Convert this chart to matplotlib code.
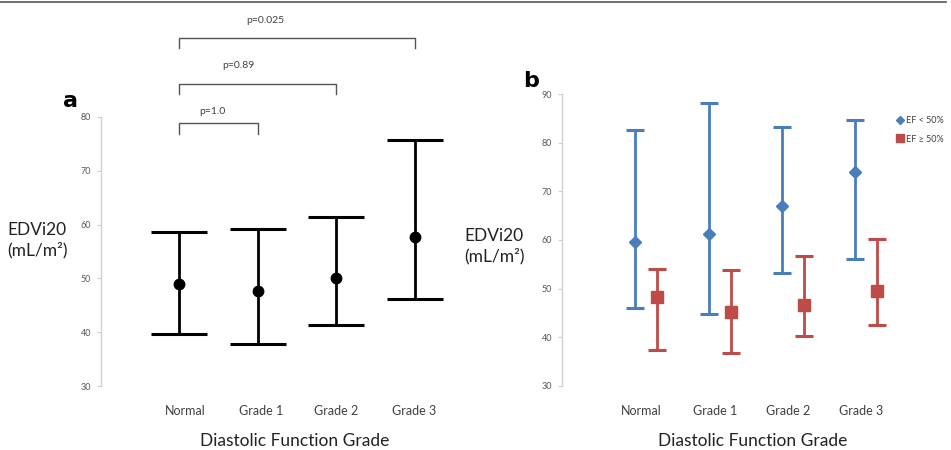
import numpy as np
import matplotlib
matplotlib.use('Agg')
import matplotlib.pyplot as plt
from matplotlib.lines import Line2D

plt.rcParams['font.family'] = ['Lato', 'DejaVu Sans']

# ---------------- data ----------------
grades = ['Normal', 'Grade 1', 'Grade 2', 'Grade 3']

# panel a: all patients
a_mean = [49.0, 47.7, 50.0, 57.7]
a_upper = [58.7, 59.1, 61.5, 75.7]
a_lower = [39.7, 37.9, 41.3, 46.1]

# panel b: split by ejection fraction
b_lo_mean = [59.6, 61.2, 67.0, 74.1]
b_lo_upper = [82.7, 88.3, 83.2, 84.8]
b_lo_lower = [46.0, 44.8, 53.1, 56.1]

b_hi_mean = [48.2, 45.1, 46.6, 49.4]
b_hi_upper = [54.1, 53.9, 56.7, 60.1]
b_hi_lower = [37.3, 36.7, 40.2, 42.5]

# significance brackets (from, to, p-label)
brackets = [(0, 1, 'p=1.0'), (0, 2, 'p=0.89'), (0, 3, 'p=0.025')]

blue = '#4a7ebb'
red = '#be4b48'
axis_grey = '#d0d0d0'
tick_grey = '#595959'
text_grey = '#404040'

fig = plt.figure(figsize=(9.51, 4.5), dpi=100)

# thin frame line at the top of the image
fig.add_artist(Line2D([0, 0.995], [0.996, 0.996], transform=fig.transFigure,
                      color='#555555', lw=1.2))


def style_axis(ax, yticks):
    for s in ['top', 'right', 'bottom']:
        ax.spines[s].set_visible(False)
    ax.spines['left'].set_color(axis_grey)
    ax.spines['left'].set_linewidth(1.0)
    ax.set_yticks(yticks)
    ax.set_yticklabels([str(t) for t in yticks], fontsize=6.5, color=tick_grey)
    ax.tick_params(axis='y', direction='out', length=3, color=axis_grey, pad=4)
    ax.tick_params(axis='x', length=0, pad=14)


###########################################################
# a) all patients
###########################################################
ax = fig.add_axes([0.1062, 0.1422, 0.4122, 0.5978])
x = np.arange(1, 5)
m = np.array(a_mean)
yerr = [m - np.array(a_lower), np.array(a_upper) - m]
ax.errorbar(x, m, yerr=yerr, fmt='o', color='black', ms=7.5, elinewidth=2.0,
            capsize=20, capthick=2.2)
ax.set_xlim(0, 5)
ax.set_ylim(30, 80)
style_axis(ax, [30, 40, 50, 60, 70, 80])
ax.set_xticks(x + [0.08, 0.04, 0, 0])
ax.set_xticklabels(grades, fontsize=9, color=text_grey)

# brackets drawn in data coordinates, above the axes
br_y = [78.8, 86.1, 94.7]
br_drop = 1.9
txt_y = [81.0, 89.6, 98.0]
txt_x = [1.42, 1.75, 2.09]
for (i0, i1, lab), yb, yt, xt in zip(brackets, br_y, txt_y, txt_x):
    ax.plot([x[i0], x[i0], x[i1], x[i1]], [yb - br_drop, yb, yb, yb - br_drop],
            color='#555555', lw=1.0, clip_on=False)
    ax.text(xt, yt, lab, fontsize=7.5, color=text_grey, ha='center', va='center',
            clip_on=False)

fig.text(71 / 951, 1 - 101 / 450, 'a', fontsize=16, fontweight='bold',
         ha='center', va='center', family='DejaVu Sans')
fig.text(7 / 951, 1 - 240 / 450, 'EDVi20\n(mL/m\u00b2)', fontsize=12.5,
         ha='left', va='center', linespacing=1.25, color='#222222')
fig.text(295 / 951, 1 - 441 / 450, 'Diastolic Function Grade', fontsize=12.5,
         ha='center', va='center', color='#222222')

###########################################################
# b) by ejection fraction
###########################################################
ax = fig.add_axes([0.5906, 0.1429, 0.3705, 0.6476])
lo = np.array(b_lo_mean)
hi = np.array(b_hi_mean)
ax.errorbar(x - 0.15, lo, yerr=[lo - np.array(b_lo_lower), np.array(b_lo_upper) - lo],
            fmt='D', color=blue, ms=6.5, elinewidth=2.0, capsize=6.5, capthick=2.2,
            label='EF < 50%')
ax.errorbar(x + 0.15, hi, yerr=[hi - np.array(b_hi_lower), np.array(b_hi_upper) - hi],
            fmt='s', color=red, ms=8, elinewidth=2.0, capsize=6.5, capthick=2.2,
            label='EF \u2265 50%')
ax.set_xlim(-0.157, 4.65)
ax.set_ylim(30, 90)
style_axis(ax, [30, 40, 50, 60, 70, 80, 90])
ax.set_xticks(x - 0.07)
ax.set_xticklabels(grades, fontsize=9, color=text_grey)

handles = [Line2D([], [], marker='D', color=blue, ls='none', ms=4),
           Line2D([], [], marker='s', color=red, ls='none', ms=5.5)]
fig.legend(handles, ['EF < 50%', 'EF \u2265 50%'], loc='center left',
           bbox_to_anchor=(893 / 951, 1 - 130 / 450), frameon=False, fontsize=6.5,
           handlelength=0.5, handletextpad=0.4, labelspacing=1.0,
           labelcolor=text_grey, borderpad=0)

fig.text(531 / 951, 1 - 81 / 450, 'b', fontsize=16, fontweight='bold',
         ha='center', va='center', family='DejaVu Sans')
fig.text(464 / 951, 1 - 246 / 450, 'EDVi20\n(mL/m\u00b2)', fontsize=12.5,
         ha='left', va='center', linespacing=1.25, color='#222222')
fig.text(753 / 951, 1 - 441 / 450, 'Diastolic Function Grade', fontsize=12.5,
         ha='center', va='center', color='#222222')

fig.savefig('out.png', dpi=100)
